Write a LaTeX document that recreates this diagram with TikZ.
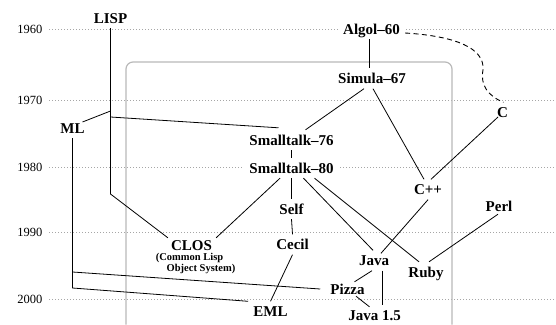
\documentclass[tikz,border=0pt]{standalone}
\usepackage{fontspec}
\setmainfont{Liberation Serif}
\begin{document}
\begin{tikzpicture}[x=1pt,y=-1pt,
 lang/.style={font=\bfseries\fontsize{15}{15}\selectfont, inner sep=5pt, text height=10pt, text depth=0pt, fill=white},
 sub/.style={font=\bfseries\fontsize{10.5}{10.5}\selectfont, inner sep=0pt},
 year/.style={font=\fontsize{12.5}{12.5}\selectfont, anchor=east, inner sep=0pt},
 grid/.style={gray!70, line width=0.6pt, dash pattern=on 0.7pt off 2.3pt},
 link/.style={line width=0.8pt},
 group/.style={gray!55, line width=1.2pt, rounded corners=7pt}]
\useasboundingbox (0,0) rectangle (556,324);
% year grid
\foreach \y/\t in {29/1960,100/1970,167/1980,232/1990,299/2000}{
  \node[year] (y\t) at (42.5,\y) {\t};
  \draw[grid] ([xshift=6.5pt]y\t.east) -- (556,\y);
}
% group box
\draw[group] (126,324.5) -- (126,62) -- (452,62) -- (452,324.5);
% nodes
\node[lang] (lisp) at (110.5,18) {LISP};
\node[lang] (algol) at (371.5,29) {Algol–60};
\node[lang] (simula) at (372,78.5) {Simula–67};
\node[lang] (c) at (502.5,112.5) {C};
\node[lang] (ml) at (72.5,128) {ML};
\node[lang] (st76) at (291.5,140) {Smalltalk–76};
\node[lang] (st80) at (291.5,168) {Smalltalk–80};
\node[lang] (self) at (291.5,209) {Self};
\node[lang] (cpp) at (428,189.5) {C++};
\node[lang] (perl) at (499,206) {Perl};
\node[lang, inner ysep=2pt] (clos) at (191.5,245) {CLOS};
\node[sub] (closa) at (189.5,258) {(Common Lisp};
\node[sub] (closb) at (201,268.5) {Object System)};
\node[lang] (cecil) at (292.5,244.5) {Cecil};
\node[lang] (java) at (374,260.5) {Java};
\node[lang] (ruby) at (426,272) {Ruby};
\node[lang] (pizza) at (347.5,289) {Pizza};
\node[lang] (java15) at (374.5,315.5) {Java 1.5};
\node[lang] (eml) at (270.5,311.5) {EML};
% helper coordinates
\coordinate (lispA) at (lisp.south |- 0,111);
\coordinate (lispB) at (lisp.south |- 0,117);
\coordinate (lispC) at (lisp.south |- 0,194);
\coordinate (mlA) at (ml.south |- 0,272);
\coordinate (mlB) at (ml.south |- 0,288);
% connectors
\draw[link] ([xshift=-2.5pt]algol.south) -- ([xshift=-3pt]simula.north);
\draw[link, line width=0.9pt, dash pattern=on 5pt off 3.5pt] ([yshift=-4pt]algol.east) .. controls (455,36) and (485,48) .. (483,70) .. controls (480,85) and (488,96) .. ([xshift=1pt]c.north);
\draw[link] ([xshift=-8pt]simula.south) -- ([xshift=14pt]st76.north);
\draw[link] ([xshift=1pt]simula.south) -- ([xshift=-4pt]cpp.north);
\draw[link] ([xshift=-4.5pt,yshift=-4.5pt]c.center) -- ([xshift=3pt]cpp.north);
\draw[link] (lisp.south) -- (lispC) -- ([xshift=2pt]clos.north west);
\draw[link] ([xshift=10pt,yshift=6pt]ml.center) -- (lispA);
\draw[link] (lispB) -- ([xshift=-13pt,yshift=2pt]st76.north);
\draw[link] (ml.south) -- (mlB) -- (eml.north west);
\draw[link] (mlA) -- ([xshift=-5pt]pizza.west);
\draw[link] (st76.south) -- (st80.north);
\draw[link] ([xshift=-11.5pt]st80.south) -- ([xshift=-1pt]clos.north east);
\draw[link] (st80.south) -- (self.north);
\draw[link] ([xshift=12pt]st80.south) -- ([xshift=-1pt]java.north);
\draw[link] ([xshift=23pt]st80.south) -- ([xshift=-7pt]ruby.north);
\draw[link] (self.south) -- (cecil.north);
\draw[link] (cecil.south) -- (eml.north);
\draw[link] (cpp.south) -- ([xshift=7pt,yshift=-3pt]java.north);
\draw[link] ([xshift=-1pt,yshift=2pt]perl.south) -- ([xshift=3pt]ruby.north);
\draw[link] ([xshift=-2pt]java.south) -- ([xshift=7pt,yshift=-3pt]pizza.north);
\draw[link] ([xshift=8pt]java.south) -- ([xshift=7.5pt]java15.north);
\draw[link] ([xshift=8.5pt,yshift=3pt]pizza.south) -- ([xshift=-5pt,yshift=-1.5pt]java15.north);
\end{tikzpicture}
\end{document}
